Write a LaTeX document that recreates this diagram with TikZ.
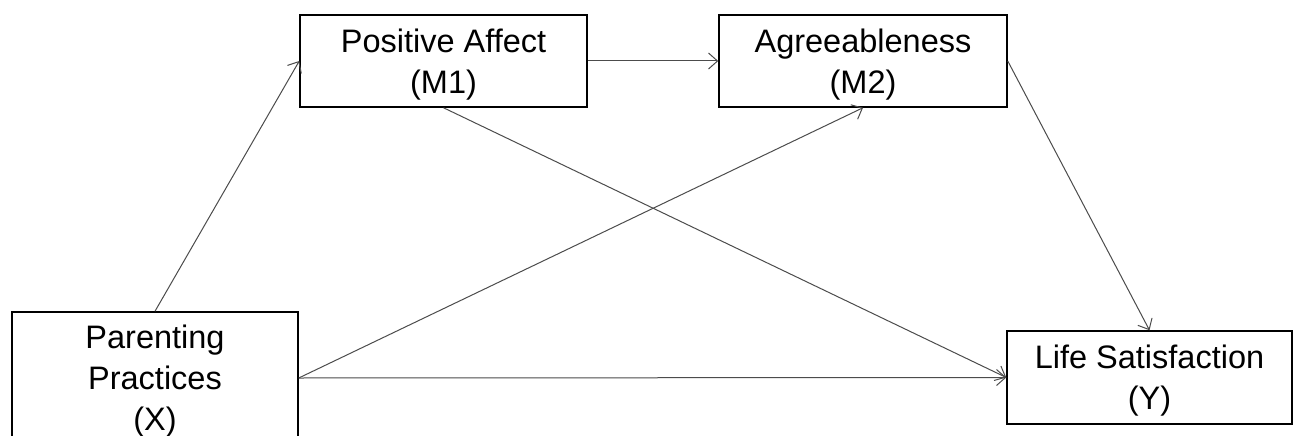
\documentclass[tikz,border=0pt]{standalone}
\usepackage{fontspec}
\setmainfont{Liberation Sans}
\usetikzlibrary{arrows.meta}
\begin{document}
\begin{tikzpicture}[x=1pt,y=-1pt,
  box/.style={draw=black, line width=1.5pt, minimum width=287pt, minimum height=92pt, align=center, font=\fontsize{32.5}{41}\selectfont, inner sep=0pt, text depth=0pt},
  conn/.style={draw=black!70, line width=1pt, -{Straight Barb[length=9pt,width=16pt]}}]
\clip (0,0) rectangle (1293,436);
\fill[white] (0,0) rectangle (1293,436);
\node[box] (m1) at (443.5,61) {Positive Affect\\(M1)};
\node[box, minimum width=288pt] (m2) at (863,61) {Agreeableness\\(M2)};
\node[box, minimum width=286pt, minimum height=132pt] (x) at (155,378) {Parenting\\Practices\\(X)};
\node[box, minimum width=285pt, minimum height=93pt] (y) at (1149.5,377.5) {Life Satisfaction\\(Y)};
\draw[conn] (x.north) -- (m1.west);
\draw[conn] (m1.east) -- (m2.west);
\draw[conn] (m1.south) -- (y.west);
\draw[conn] (x.east) -- (m2.south);
\draw[conn] (x.east) -- (y.west);
\draw[conn] (m2.east) -- (y.north);
\end{tikzpicture}
\end{document}
